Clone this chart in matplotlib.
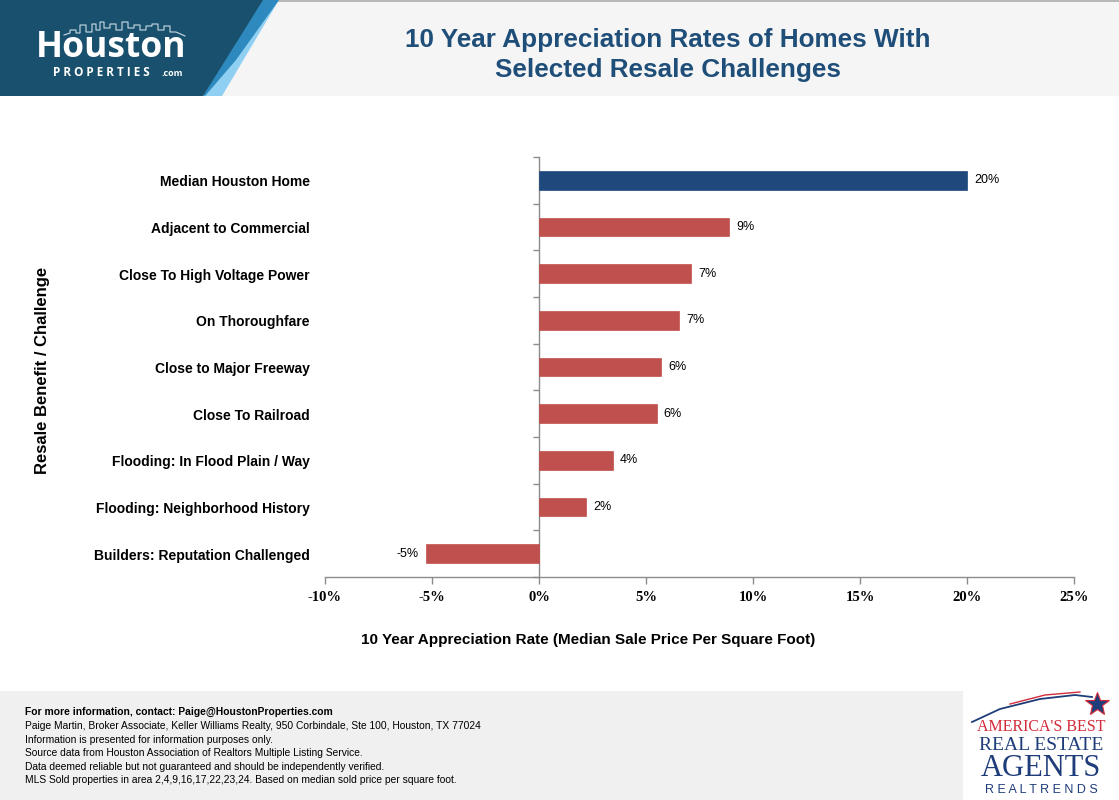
import matplotlib
matplotlib.use("Agg")
import matplotlib.pyplot as plt
from matplotlib.patches import Polygon, Rectangle
from matplotlib.ticker import FixedLocator, FuncFormatter
import numpy as np

# ---------------- data ----------------
categories = [
    "Median Houston Home",
    "Adjacent to Commercial",
    "Close To High Voltage Power",
    "On Thoroughfare",
    "Close to Major Freeway",
    "Close To Railroad",
    "Flooding: In Flood Plain / Way",
    "Flooding: Neighborhood History",
    "Builders: Reputation Challenged",
]
values = [20.0, 8.9, 7.1, 6.55, 5.7, 5.5, 3.45, 2.2, -5.3]
value_labels = ["20%", "9%", "7%", "7%", "6%", "6%", "4%", "2%", "-5%"]
bar_colors = ["#1f497d"] + ["#c0504d"] * 8
x_ticks = [-10, -5, 0, 5, 10, 15, 20, 25]

title_lines = ["10 Year Appreciation Rates of Homes With", "Selected Resale Challenges"]
x_label = "10 Year Appreciation Rate (Median Sale Price Per Square Foot)"
y_label = "Resale Benefit / Challenge"
footer_bold = "For more information, contact: Paige@HoustonProperties.com"
footer_lines = [
    "Paige Martin, Broker Associate, Keller Williams Realty, 950 Corbindale, Ste 100, Houston, TX 77024",
    "Information is presented for information purposes only.",
    "Source data from Houston Association of Realtors Multiple Listing Service.",
    "Data deemed reliable but not guaranteed and should be independently verified.",
    "MLS Sold properties in area 2,4,9,16,17,22,23,24. Based on median sold price per square foot.",
]

SANS = "Liberation Sans"
SERIF = "Liberation Serif"

W, H = 1119, 800
fig = plt.figure(figsize=(W / 100, H / 100), dpi=100)
fig.patch.set_facecolor("white")

def fx(px):
    return px / W

def fy(py):
    return 1 - py / H

# ---------------- header ----------------
bg = fig.add_axes([0, 0, 1, 1], zorder=-10)
bg.set_xlim(0, W)
bg.set_ylim(H, 0)
bg.axis("off")
bg.add_patch(Rectangle((0, 0), W, 96, color="#f5f5f5", lw=0))
bg.add_patch(Rectangle((0, 0), W, 2, color="#b8b8b8", lw=0))
bg.add_patch(Polygon([(0, 0), (279, 0), (222, 96), (203, 96)], closed=True, color="#8fd0f2", lw=0))
bg.add_patch(Polygon([(0, 0), (279, 0), (236, 60), (205, 96)], closed=True, color="#2e89bf", lw=0))
bg.add_patch(Polygon([(0, 0), (263, 0), (203, 96), (0, 96)], closed=True, color="#18506d", lw=0))
# skyline outline (decorative)
sky_x = [64, 70, 70, 76, 76, 80, 80, 86, 86, 92, 92, 96, 96, 100, 100, 104, 104, 110, 110, 116, 116,
         122, 122, 128, 128, 134, 134, 140, 140, 146, 146, 152, 152, 158, 158, 164, 164, 170, 170, 176, 185]
sky_y = [35, 33, 30, 30, 33, 33, 25, 25, 32, 32, 24, 24, 30, 30, 22, 22, 28, 28, 24, 24, 30,
         30, 22, 22, 28, 28, 25, 25, 30, 30, 26, 26, 24, 24, 30, 30, 26, 26, 32, 32, 36]
bg.plot(sky_x, sky_y, color="#c9dbe5", lw=0.8)
bg.text(111, 57, "Houston", color="white", fontsize=25.5, fontweight="bold",
        family="Open Sans", ha="center", va="baseline")
bg.text(101, 75.5, "P R O P E R T I E S", color="white", fontsize=8.5, fontweight="bold",
        family="Open Sans", ha="center", va="baseline")
bg.text(162, 75.5, ".com", color="white", fontsize=6.5, fontweight="bold",
        family="Open Sans", ha="left", va="baseline")

for i, line in enumerate(title_lines):
    bg.text(668, 40 + 30 * i, line, color="#1f4e79", fontsize=18.8,
            fontweight="bold", family=SANS, ha="center", va="center")

# ---------------- footer ----------------
bg.add_patch(Rectangle((0, 691), 963, 109, color="#f0f0f0", lw=0))
bg.text(25, 712, footer_bold, fontsize=7.4, fontweight="bold", family=SANS, va="center", color="black")
for i, line in enumerate(footer_lines):
    bg.text(25, 726 + i * 13.6, line, fontsize=7.4, family=SANS, va="center", color="black")

# right logo
bg.plot([972, 1000, 1040, 1075, 1092], [722, 709, 699, 695, 697], color="#1f3d7a", lw=1.3)
bg.plot([1010, 1045, 1080], [704, 695, 692], color="#d22b3a", lw=1.0)
bg.plot([1097], [704], marker="*", ms=18, color="#1f3d7a", markeredgecolor="#d22b3a", mew=0.8)
bg.text(1041, 727, "AMERICA'S BEST", color="#d22b3a", fontsize=11.5, family=SERIF,
        ha="center", va="center")
bg.text(1041, 745, "REAL ESTATE", color="#1f3d7a", fontsize=14, family=SERIF,
        ha="center", va="center")
bg.text(1041, 769, "AGENTS", color="#1f3d7a", fontsize=22, family=SERIF,
        ha="center", va="center")
bg.text(1041, 790, "R E A L T R E N D S", color="#1f3d7a", fontsize=9, family=SANS,
        ha="center", va="center")

# ---------------- chart ----------------
ax = fig.add_axes([fx(325), fy(577), fx(1074) - fx(325), fy(157) - fy(577)])
ax.set_facecolor("none")
n = len(categories)
ypos = np.arange(n)
ax.barh(ypos, values, height=0.4, color=bar_colors, edgecolor=bar_colors, lw=0.5, zorder=3)
ax.set_ylim(n - 0.5, -0.5)
ax.set_xlim(min(x_ticks), max(x_ticks))

for sp in ["top", "right"]:
    ax.spines[sp].set_visible(False)
ax.spines["left"].set_position(("data", 0))
ax.spines["left"].set_color("#8c8c8c")
ax.spines["bottom"].set_color("#8c8c8c")
ax.spines["left"].set_linewidth(1.0)
ax.spines["bottom"].set_linewidth(1.0)

ax.yaxis.set_major_locator(FixedLocator(list(np.arange(-0.5, n, 1.0))))
ax.yaxis.set_major_formatter(FuncFormatter(lambda v, p: ""))
ax.tick_params(axis="y", direction="out", length=4, color="#8c8c8c", width=1.0)

ax.set_xticks(x_ticks)
ax.set_xticklabels([f"{t}%" for t in x_ticks], family=SERIF, fontweight="bold", fontsize=10.5)
ax.tick_params(axis="x", direction="out", length=5, color="#8c8c8c", width=1.0, pad=5)

ytr = ax.get_yaxis_transform()
for i, c in enumerate(categories):
    ax.text(-15 / 749, i + 0.04, c, transform=ytr, ha="right", va="center",
            fontsize=10, fontweight="bold", family=SANS)

for i, (v, lab) in enumerate(zip(values, value_labels)):
    if v >= 0:
        ax.annotate(lab, (v, i), xytext=(5, 0), textcoords="offset points",
                    ha="left", va="center", fontsize=9, family=SANS)
    else:
        ax.annotate(lab, (v, i), xytext=(-5, 0), textcoords="offset points",
                    ha="right", va="center", fontsize=9, family=SANS)

fig.text(fx(588), fy(640), x_label, ha="center", va="center", fontsize=11,
         fontweight="bold", family=SANS)
fig.text(fx(43), fy(370), y_label, ha="center", va="center", rotation=90,
         fontsize=12, fontweight="bold", family=SANS)

fig.savefig("out.png", dpi=100)
